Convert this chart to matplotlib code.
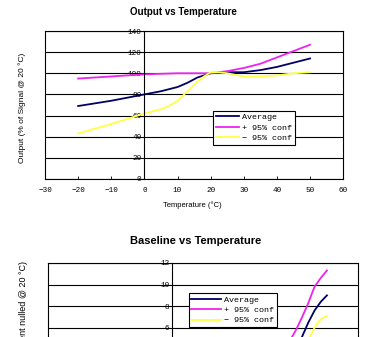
import matplotlib
matplotlib.use("Agg")
import matplotlib.pyplot as plt

# ---- data: Output vs Temperature ----
temp_avg = [-20, -10, 0, 5, 10, 13, 16, 20, 25, 30, 35, 40, 45, 50]
out_avg = [69, 74, 80, 83, 87, 91, 96, 100, 101, 101, 103, 106, 110, 114]
temp_hi = [-20, -10, 0, 10, 20, 25, 30, 35, 40, 45, 50]
out_hi = [95, 97, 99, 100, 100, 102, 105, 109, 115, 121, 127]
temp_lo = [-20, -10, 0, 5, 8, 10, 12, 14, 16, 18, 20, 22, 25, 30, 35, 40, 45, 50]
out_lo = [43, 52, 62, 66, 70, 74, 80, 86, 92, 97, 101, 101, 100, 97, 97, 98, 100, 101]

# ---- data: Baseline vs Temperature ----
b_temp_avg = [41, 42, 44, 46, 48, 50]
b_avg = [4.5, 5.2, 6.5, 7.6, 8.4, 9.0]
b_temp_hi = [38, 40, 42, 44, 46, 48, 50]
b_hi = [4.8, 5.8, 7.0, 8.3, 9.8, 10.6, 11.3]
b_temp_lo = [43.5, 44.5, 46, 47, 48.5, 50]
b_lo = [4.5, 5.2, 6.0, 6.5, 6.9, 7.1]

labels = ["Average", "+ 95% conf", "\u2212 95% conf"]
colors = ["#000066", "#ee22ee", "#ffff44"]

mono = "Liberation Mono"

fig = plt.figure(figsize=(3.69, 3.37), dpi=100)


def style_axes(ax, xlim, ylim, yticks, xticks):
    ax.set_xlim(*xlim)
    ax.set_ylim(*ylim)
    # y axis runs through x = 0, plot area keeps a full frame
    ax.spines["left"].set_position(("data", 0))
    ax.axvline(xlim[0], color="black", lw=0.8, clip_on=False)
    for s in ax.spines.values():
        s.set_linewidth(0.8)
    ax.set_yticks(yticks)
    ax.set_xticks(xticks)
    ax.tick_params(axis="both", direction="in", length=2, width=0.6, pad=2,
                   labelsize=5.5)
    ax.tick_params(axis="x", pad=6)
    for t in ax.get_xticklabels() + ax.get_yticklabels():
        t.set_family(mono)
    ax.yaxis.grid(True, color="black", linewidth=0.8)
    ax.set_axisbelow(True)


# top chart
ax1 = fig.add_axes([0.122, 0.469, 0.808, 0.439])
ax1.plot(temp_avg, out_avg, color=colors[0], lw=1.3, label=labels[0])
ax1.plot(temp_hi, out_hi, color=colors[1], lw=1.3, label=labels[1])
ax1.plot(temp_lo, out_lo, color=colors[2], lw=1.3, label=labels[2])
style_axes(ax1, (-30, 60), (0, 140), range(0, 141, 20), range(-30, 61, 10))
leg1 = ax1.legend(loc="upper left", bbox_to_anchor=(0.55, 0.49), fancybox=False,
                  edgecolor="black", framealpha=1, prop={"family": mono, "size": 6},
                  handlelength=2.8, handletextpad=0.3, borderpad=0.35, labelspacing=0.3)
leg1.get_frame().set_linewidth(0.8)
fig.text(0.497, 0.963, "Output vs Temperature", ha="center", va="center",
         fontsize=7, fontweight="bold", family="Liberation Sans")
fig.text(0.52, 0.392, "Temperature (\u00b0C)", ha="center", va="center",
         fontsize=5.5, family="Liberation Sans")
fig.text(0.06, 0.68, "Output (% of Signal @ 20 \u00b0C)", ha="center", va="center",
         rotation=90, fontsize=6, family="Liberation Sans")

# bottom chart (runs off the bottom of the figure, only upper part visible)
ax2 = fig.add_axes([0.130, -0.166, 0.840, 0.386])
ax2.plot(b_temp_avg, b_avg, color=colors[0], lw=1.3, label=labels[0])
ax2.plot(b_temp_hi, b_hi, color=colors[1], lw=1.3, label=labels[1])
ax2.plot(b_temp_lo, b_lo, color=colors[2], lw=1.3, label=labels[2])
style_axes(ax2, (-40, 60), (0, 12), range(6, 13, 2), range(-40, 61, 10))
ax2.tick_params(axis="x", labelbottom=False)
leg2 = ax2.legend(loc="upper left", bbox_to_anchor=(0.44, 0.80), fancybox=False,
                  edgecolor="black", framealpha=1, prop={"family": mono, "size": 6},
                  handlelength=3.6, handletextpad=0.3, borderpad=0.35, labelspacing=0.3)
leg2.get_frame().set_linewidth(0.8)
fig.text(0.53, 0.285, "Baseline vs Temperature", ha="center", va="center",
         fontsize=8, fontweight="bold", family="Liberation Sans")
fig.text(0.065, 0.225, "Baseline (% of gradient nulled @ 20 \u00b0C)", ha="center",
         va="top", rotation=90, fontsize=6.5, family="Liberation Sans")

fig.savefig("out.png", dpi=100)
